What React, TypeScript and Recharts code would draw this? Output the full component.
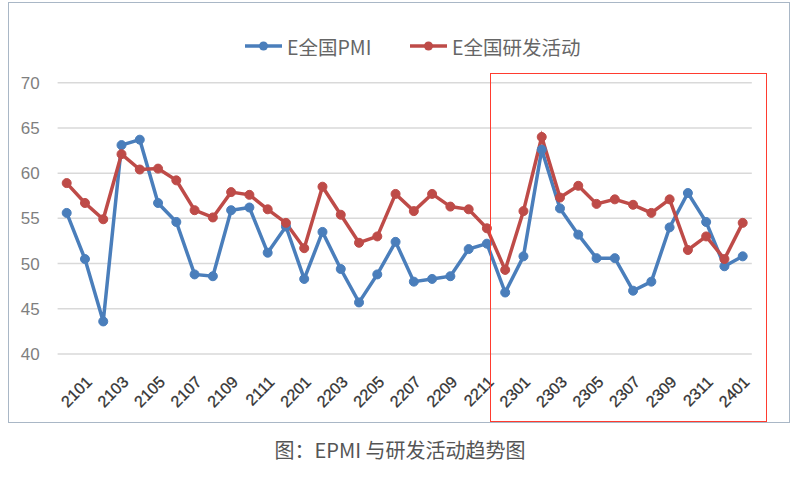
import React from 'react';
import { LineChart, Line, XAxis, YAxis, CartesianGrid } from 'recharts';

const months = [
  '2012',
  '2101', '2102', '2103', '2104', '2105', '2106', '2107', '2108', '2109', '2110', '2111', '2112',
  '2201', '2202', '2203', '2204', '2205', '2206', '2207', '2208', '2209', '2210', '2211', '2212',
  '2301', '2302', '2303', '2304', '2305', '2306', '2307', '2308', '2309', '2310', '2311', '2312',
  '2401',
];

const pmi = [
  55.6, 50.5, 43.6, 63.1, 63.7, 56.7, 54.6, 48.8, 48.6, 55.9, 56.2, 51.2,
  54.1, 48.3, 53.5, 49.4, 45.7, 48.8, 52.4, 48.0, 48.3, 48.6, 51.6, 52.2,
  46.8, 50.8, 62.6, 56.1, 53.2, 50.6, 50.6, 47.0, 48.0, 54.0, 57.8, 54.6, 49.7, 50.8,
];

const rd = [
  58.9, 56.7, 54.9, 62.1, 60.4, 60.5, 59.2, 55.9, 55.1, 57.9, 57.6, 56.0,
  54.5, 51.7, 58.5, 55.4, 52.3, 53.0, 57.7, 55.8, 57.7, 56.3, 56.0, 53.9,
  49.3, 55.8, 64.0, 57.3, 58.6, 56.6, 57.1, 56.5, 55.6, 57.1, 51.5, 53.0, 50.5, 54.5,
];

const yTicks = [40, 45, 50, 55, 60, 65, 70];

const series = [
  { key: 'pmi', name: 'E全国PMI', color: '#4A7EBB' },
  { key: 'rd', name: 'E全国研发活动', color: '#BE4B48' },
];

const data = months.map((m, i) => ({ month: m, pmi: pmi[i], rd: rd[i] }));

const XTick = (props: any) => {
  const { x, y, payload, index } = props;
  const idx = payload && typeof payload.index === 'number' ? payload.index : index;
  if (idx % 2 !== 1) return null;
  const ax = x + 4;
  const ay = y + 17;
  return (
    <text
      x={ax}
      y={ay}
      transform={`rotate(-45 ${ax} ${ay})`}
      textAnchor="end"
      dy="0.35em"
      fontSize={16}
      fontFamily="'Liberation Sans', Arial, sans-serif"
      fill="#333333"
      stroke="#333333"
      strokeWidth={0.3}
    >
      {payload.value}
    </text>
  );
};

const legendPos = [245, 410];

export default function App() {
  return (
    <div style={{ position: 'absolute', left: 0, top: 0, width: 800, height: 477, background: '#fff', overflow: 'hidden' }}>
      <div
        style={{
          position: 'absolute',
          left: 8,
          top: 2,
          width: 780,
          height: 419,
          border: '1.5px solid #A9B7C6',
        }}
      />
      <div style={{ position: 'absolute', left: 0, top: 0 }}>
        <LineChart
          width={800}
          height={430}
          data={data}
          margin={{ top: 82.7, right: 48.2, bottom: 26, left: 17.6 }}
        >
          <CartesianGrid vertical={false} stroke="#D9D9D9" strokeWidth={1.5} />
          <XAxis
            dataKey="month"
            interval={0}
            tickLine={false}
            axisLine={false}
            height={50}
            padding={{ left: 9.1, right: 9.1 }}
            tick={<XTick />}
          />
          <YAxis
            domain={[40, 70]}
            ticks={yTicks}
            axisLine={false}
            tickLine={false}
            width={40}
            tickMargin={12}
            tick={{ fontSize: 17, fill: '#7F7F7F', fontFamily: "'Liberation Sans', Arial, sans-serif" }}
          />
          {series.map((s) => (
            <Line
              key={s.key}
              type="linear"
              dataKey={s.key}
              name={s.name}
              stroke={s.color}
              strokeWidth={3.5}
              dot={{ r: 4.5, fill: s.color, stroke: s.color, strokeWidth: 1 }}
              isAnimationActive={false}
            />
          ))}
        </LineChart>
      </div>
      {series.map((s, i) => (
        <div
          key={s.key}
          style={{
            position: 'absolute',
            left: legendPos[i],
            top: 33,
            height: 26,
            display: 'flex',
            alignItems: 'center',
            fontFamily: "'Noto Sans CJK SC', sans-serif",
            fontSize: 19.5,
            color: '#666666',
            whiteSpace: 'nowrap',
          }}
        >
          <svg width={40} height={12} style={{ marginRight: 2 }}>
            <line x1={0} y1={6} x2={37} y2={6} stroke={s.color} strokeWidth={3.5} />
            <circle cx={18.5} cy={6} r={4.5} fill={s.color} />
          </svg>
          <span>{s.name}</span>
        </div>
      ))}
      <div
        style={{
          position: 'absolute',
          left: 490,
          top: 73,
          width: 275,
          height: 347,
          border: '1.5px solid #FF3B2F',
        }}
      />
      <div
        style={{
          position: 'absolute',
          left: 0,
          top: 435,
          width: 800,
          textAlign: 'center',
          fontFamily: "'Noto Sans CJK SC', sans-serif",
          fontSize: 20,
          color: '#555555',
        }}
      >
        图：EPMI 与研发活动趋势图
      </div>
    </div>
  );
}
